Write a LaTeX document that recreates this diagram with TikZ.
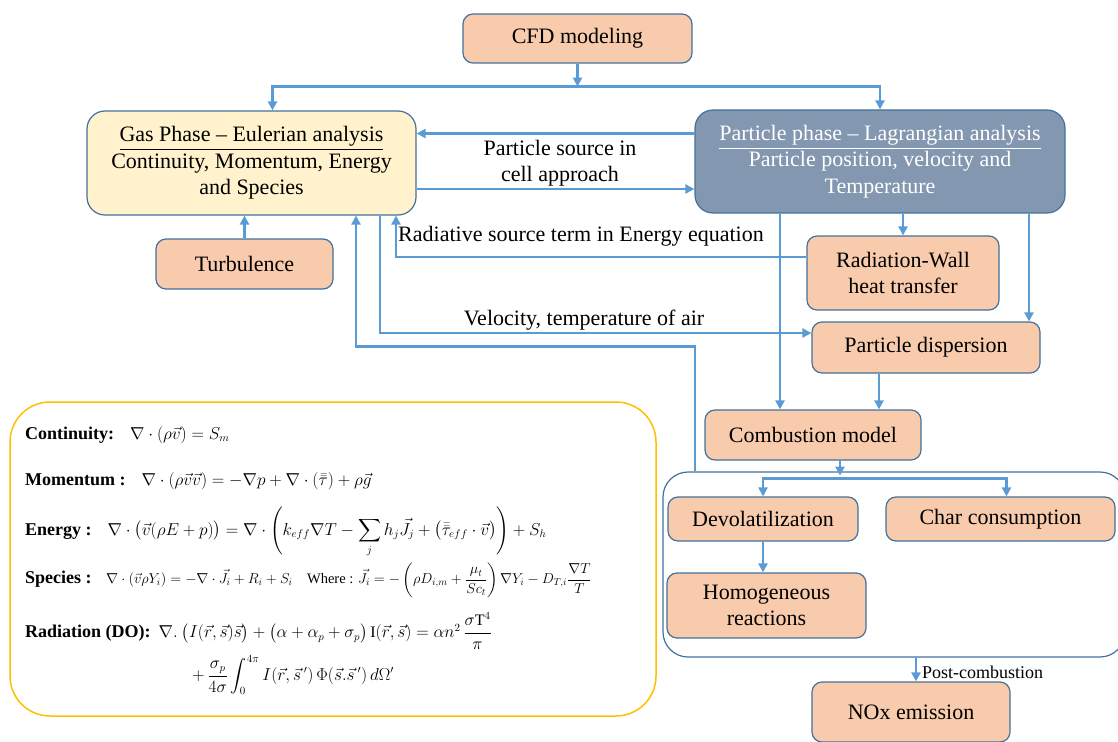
\documentclass[tikz,border=0pt]{standalone}
\usepackage{amsmath,amssymb}
\usepackage{fontspec}
\setmainfont{Liberation Serif}
\usepackage{tikz}
\usetikzlibrary{arrows.meta,calc}
\definecolor{figlink}{RGB}{91,155,213}
\definecolor{figedge}{RGB}{65,113,156}
\definecolor{figpeach}{RGB}{248,203,173}
\definecolor{figcream}{RGB}{255,242,204}
\definecolor{figslate}{RGB}{132,151,176}
\definecolor{figgold}{RGB}{255,192,0}
\newcommand{\eqlab}[1]{{\fontsize{18}{21}\selectfont\bfseries #1}}
\tikzset{
  box/.style  ={draw=figedge, line width=1.2pt, fill=figpeach, rounded corners=10pt, align=center,
                inner sep=0pt, font=\fontsize{22}{26.5}\selectfont},
  boxg/.style ={box, fill=figcream, rounded corners=18pt},
  boxp/.style ={box, fill=figslate, rounded corners=18pt, text=white},
  lab/.style  ={font=\fontsize{22}{26.5}\selectfont, inner sep=0pt, align=center},
  labs/.style ={font=\fontsize{18}{21}\selectfont, inner sep=0pt},
  eq/.style   ={font=\fontsize{16}{19}\selectfont, inner sep=0pt, anchor=west},
  ptr/.style  ={draw=figlink, line width=2.6pt, -{Triangle[length=9pt,width=9pt]}},
}

\begin{document}
\begin{tikzpicture}[x=1pt,y=1pt]
  \useasboundingbox (0,0) rectangle (1118,-741);
  % frames
  \node[draw=figedge, line width=1.2pt, rounded corners=25pt, minimum width=462, minimum height=185] (reac) at (894,-564.5) {};
  \node[draw=figgold, line width=1.5pt, rounded corners=40pt, minimum width=646, minimum height=314] (eqbox) at (333,-559) {};
  % boxes
  \node[box, minimum width=229, minimum height=49] (cfd) at (577.5,-38.5) {CFD modeling};
  \node[boxg, minimum width=329, minimum height=104] (gas) at (251.5,-163)
    {\underline{Gas Phase -- Eulerian analysis}\\Continuity, Momentum, Energy\\and Species};
  \node[boxp, minimum width=370, minimum height=103] (part) at (880,-161.5)
    {\underline{Particle phase -- Lagrangian analysis}\\Particle position, velocity and\\Temperature};
  \node[box, minimum width=177, minimum height=50] (turb) at (244.5,-264) {Turbulence};
  \node[box, minimum width=192, minimum height=74] (radw) at (903,-273) {Radiation-Wall\\heat transfer};
  \node[box, minimum width=228, minimum height=51] (disp) at (926,-347.5) {Particle dispersion};
  \node[box, minimum width=216, minimum height=50] (comb) at (813,-435) {Combustion model};
  \node[box, minimum width=190, minimum height=44] (devol) at (763,-519) {Devolatilization};
  \node[box, minimum width=229, minimum height=44] (charc) at (1000.5,-519) {Char consumption};
  \node[box, minimum width=199, minimum height=65] (homo) at (766.5,-605.5) {Homogeneous\\reactions};
  \node[box, minimum width=198, minimum height=60] (nox) at (911,-712) {NOx emission};
  % connectors
  \coordinate (split) at ($(cfd.south)+(0,-23)$);
  \draw[ptr] (cfd.south) -- (split);
  \draw[ptr] (split) -| ([xshift=21]gas.north);
  \draw[ptr] (split) -| (part.north);
  \draw[ptr] ([yshift=28]part.west) -- ([yshift=28]part.west -| gas.east);
  \draw[ptr] ([yshift=-26]gas.east) -- ([yshift=-26]gas.east -| part.west);
  \node[lab] (srclbl) at (560,-163) {Particle source in\\cell approach};
  \draw[ptr] (turb.north) -- (turb.north |- gas.south);
  \draw[ptr] (radw.north |- part.south) -- (radw.north);
  \draw[ptr] ([yshift=16]radw.west) -| ([xshift=144.5]gas.south);
  \node[lab, anchor=west] (radlbl) at (398,-236) {Radiative source term in Energy equation};
  \draw[ptr] ([xshift=128.5]gas.south) |- ([yshift=14.5]disp.west);
  \node[lab] (vellbl) at (584,-320) {Velocity, temperature of air};
  \draw[ptr] ([xshift=149]part.south) -- ([xshift=149]part.south |- disp.north);
  \draw[ptr] ([xshift=-100]part.south) -- ([xshift=-100]part.south |- comb.north);
  \draw[ptr] ([xshift=-47]disp.south) -- ([xshift=-47]disp.south |- comb.north);
  \draw[ptr] ([xshift=-199]reac.north) -- ++(0,125) -| ([xshift=104.5]gas.south);
  \coordinate (fork) at ($(comb.south)+(27,-18)$);
  \draw[ptr] ([xshift=27]comb.south) -- ++(0,-15);
  \draw[ptr] (fork) -| (devol.north);
  \draw[ptr] (fork) -| ([xshift=6]charc.north);
  \draw[ptr] (devol.south) -- (devol.south |- homo.north);
  \draw[ptr] ([xshift=22]reac.south) -- ([xshift=22]reac.south |- nox.north);
  \node[labs, anchor=west] (postlbl) at (922,-672) {Post-combustion};
  % equations
  \node[eq] (eqcont) at (25,-435) {\eqlab{Continuity:}\quad$\nabla\cdot(\rho\vec{v})=S_m$};
  \node[eq] (eqmom) at (25,-481) {\eqlab{Momentum :}\quad$\nabla\cdot(\rho\vec{v}\vec{v})=-\nabla p+\nabla\cdot(\bar{\bar{\tau}})+\rho\vec{g}$};
  \node[eq] (eqene) at (25,-532) {\eqlab{Energy :}\quad$\nabla\cdot\big(\vec{v}(\rho E+p)\big)=\nabla\cdot\left(k_{eff}\nabla T-\displaystyle\sum_j h_j\vec{J}_j+\big(\bar{\bar{\tau}}_{eff}\cdot\vec{v}\big)\right)+S_h$};
  \node[eq, font=\fontsize{14.5}{17}\selectfont] (eqspec) at (25,-580) {\eqlab{Species :}\quad$\nabla\cdot(\vec{v}\rho Y_i)=-\nabla\cdot\vec{J}_i+R_i+S_i$\quad Where : $\vec{J}_i=-\left(\rho D_{i,m}+\dfrac{\mu_t}{Sc_t}\right)\nabla Y_i-D_{T,i}\dfrac{\nabla T}{T}$};
  \node[eq] (eqrad) at (25,-631) {\eqlab{Radiation (DO):}\enspace$\nabla.\ \big(I(\vec{r},\vec{s})\vec{s}\big)+\big(\alpha+\alpha_p+\sigma_p\big)\,\mathrm{I}(\vec{r},\vec{s})=\alpha n^2\,\dfrac{\sigma\mathrm{T}^4}{\pi}$};
  \node[eq] (eqrad2) at (192,-675) {$+\,\dfrac{\sigma_p}{4\sigma}\displaystyle\int_0^{4\pi}I(\vec{r},\vec{s}\,')\,\Phi(\vec{s}.\vec{s}\,')\,d\Omega'$};
\end{tikzpicture}
\end{document}
